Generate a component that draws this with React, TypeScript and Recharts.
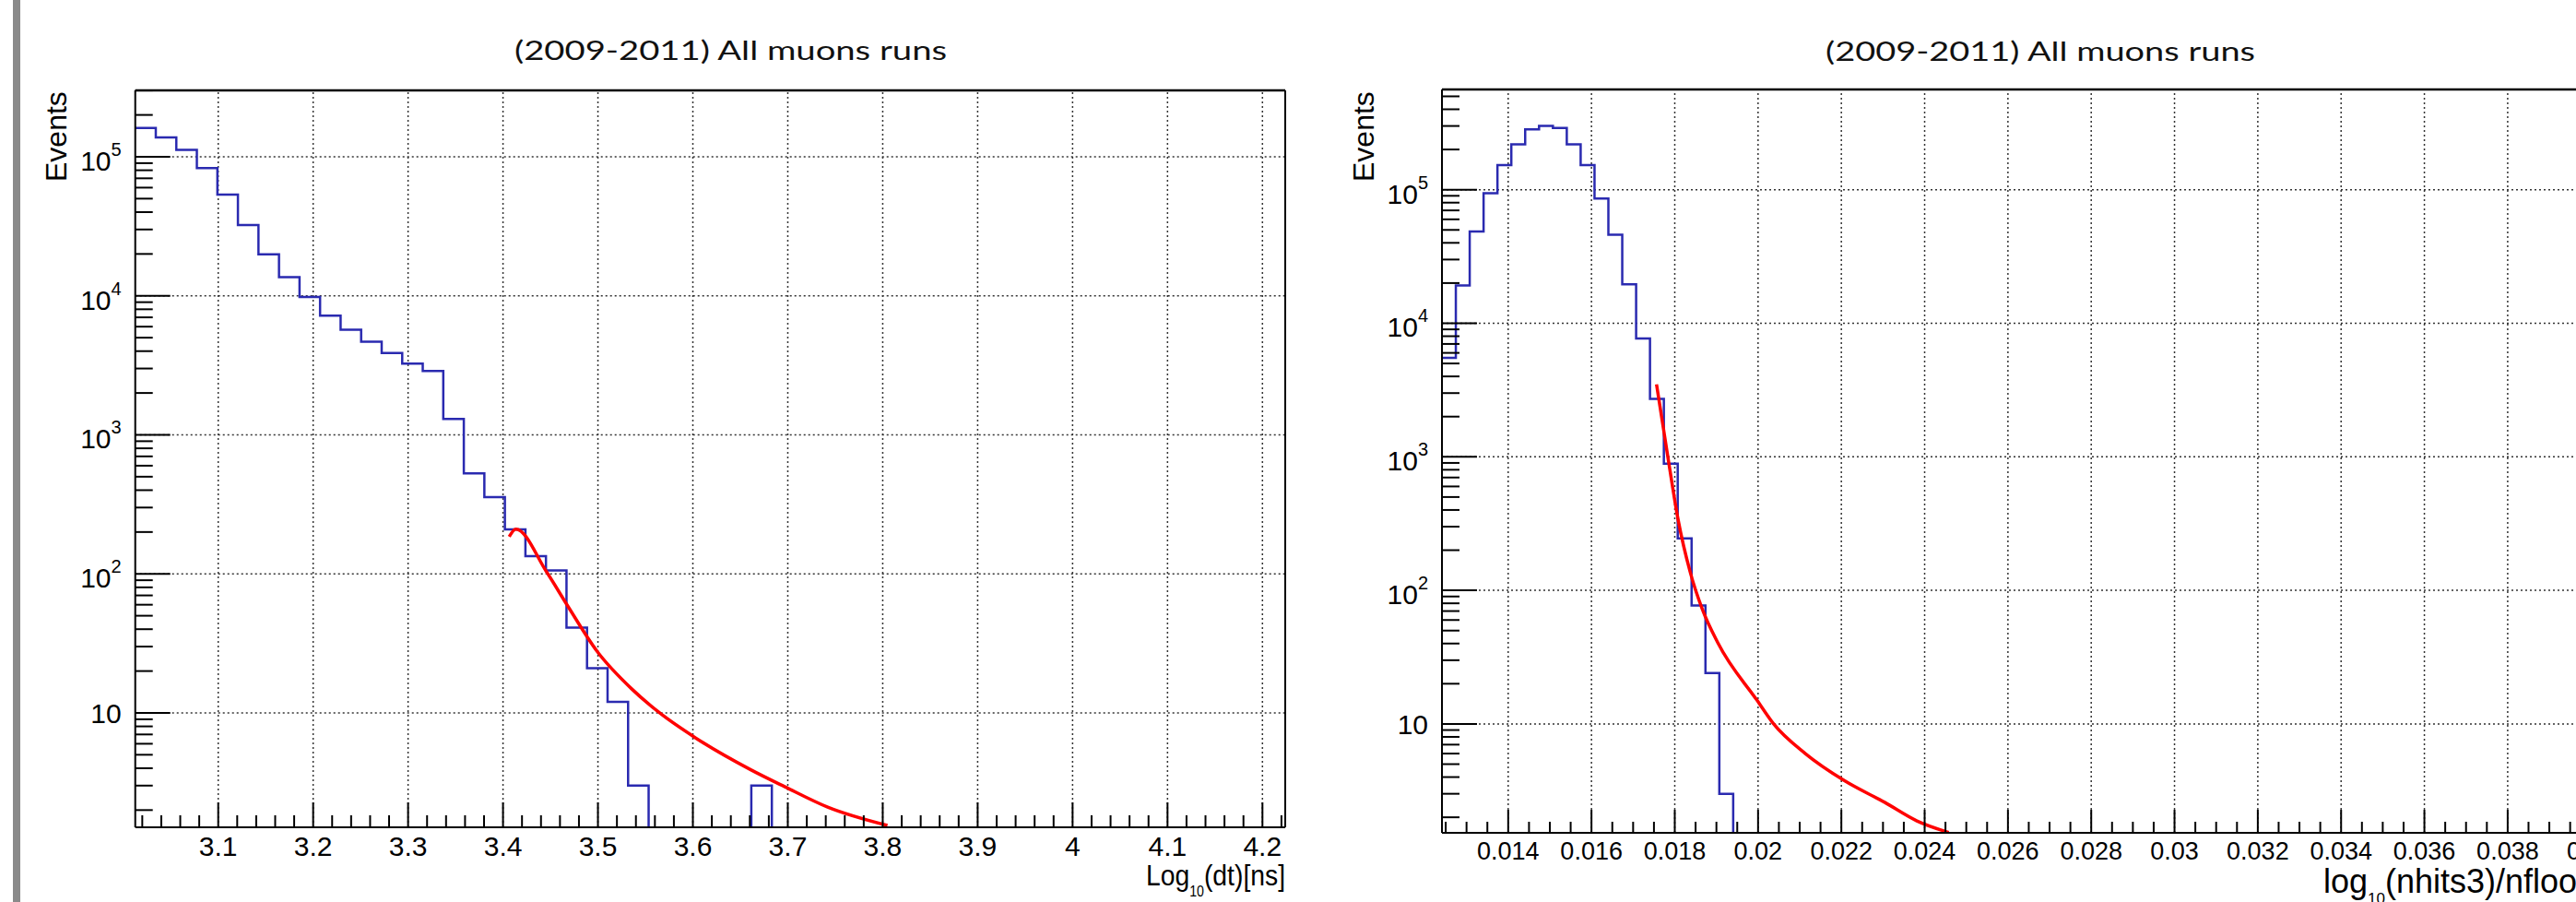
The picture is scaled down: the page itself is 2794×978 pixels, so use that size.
import React from 'react';
import { LineChart, Line, XAxis, YAxis, ReferenceLine } from 'recharts';

// ---------------- shared text ----------------
const TITLE = '(2009-2011) All muons runs';
const Y_TITLE = 'Events';
const Y_DECADES = [10, 100, 1000, 10000, 100000];
const Y_DECADE_EXPONENTS = ['1', '2', '3', '4', '5'];

// ---------------- left panel: log10(dt) ----------------
const DT_RANGE = [3.0126, 4.224];
const DT_BIN_WIDTH = 0.021632;
const DT_COUNTS = [
  161000, 138000, 112000, 83000, 53500, 32300, 19900, 13600, 9800, 7200,
  5700, 4670, 3880, 3250, 2880, 1300, 528, 357, 209, 134,
  106, 41, 21, 12, 3, 0, 0, 0, 0, 0,
  3, 0, 0, 0, 0, 0, 0, 0, 0, 0,
  0, 0, 0, 0, 0, 0, 0, 0, 0, 0,
  0, 0, 0, 0, 0, 0,
];
const DT_FIT_X = [3.4065, 3.4135, 3.446, 3.468, 3.4995, 3.5355, 3.565, 3.603, 3.661, 3.697, 3.742, 3.805];
const DT_FIT_Y = [185, 210, 103, 59, 27.5, 14.9, 10, 6.6, 3.9, 2.94, 2.1, 1.55];
const DT_Y_RANGE = [1.504, 300300];
const DT_TICKS = [3.1, 3.2, 3.3, 3.4, 3.5, 3.6, 3.7, 3.8, 3.9, 4.0, 4.1, 4.2];
const DT_TICK_LABELS = ['3.1', '3.2', '3.3', '3.4', '3.5', '3.6', '3.7', '3.8', '3.9', '4', '4.1', '4.2'];
const DT_MINOR_STEP = 0.02;
const DT_X_TITLE = ['Log', '10', '(dt)[ns]'];

// ---------------- right panel: log10(nhits3)/nfloor ----------------
const NH_RANGE = [0.01241, 0.041323];
const NH_BIN_WIDTH = 0.000333;
const NH_COUNTS = [
  5500, 19200, 48700, 94000, 153000, 219000, 283000, 300000, 290000, 219000,
  153000, 86000, 46000, 19600, 7700, 2720, 889, 245, 77, 24,
  3, 0, 0, 0,
];
const NH_FIT_X = [0.017562, 0.01785, 0.01808, 0.018368, 0.018656, 0.019032, 0.019984, 0.020374, 0.021135, 0.022087, 0.023039, 0.023814, 0.024578];
const NH_FIT_Y = [3490, 929, 339, 138, 73, 40.6, 14.9, 10, 6.0, 3.74, 2.59, 1.88, 1.54];
const NH_Y_RANGE = [1.53, 563000];
const NH_TICKS = [0.014, 0.016, 0.018, 0.02, 0.022, 0.024, 0.026, 0.028, 0.03, 0.032, 0.034, 0.036, 0.038, 0.04];
const NH_TICK_LABELS = ['0.014', '0.016', '0.018', '0.02', '0.022', '0.024', '0.026', '0.028', '0.03', '0.032', '0.034', '0.036', '0.038', '0.04'];
const NH_MINOR_STEP = 0.0005;
const NH_X_TITLE = ['log', '10', '(nhits3)/nfloor'];

const FONT = '"Liberation Sans", Arial, Helvetica, sans-serif';
const HIST_COLOR = '#2a2ab0';
const FIT_COLOR = '#ff0000';
const ZERO_FLOOR = 0.1;

function toSteps(x0: number, w: number, counts: number[]) {
  const pts = counts.map((c, i) => ({ x: x0 + i * w, y: c > 0 ? c : ZERO_FLOOR }));
  pts.push({ x: x0 + counts.length * w, y: pts[pts.length - 1].y });
  return pts;
}

function toPoints(xs: number[], ys: number[]) {
  return xs.map((x, i) => ({ x, y: ys[i] }));
}

function buildXTicks(range: number[], step: number) {
  const out: number[] = [];
  const k0 = Math.ceil(range[0] / step - 1e-9);
  const k1 = Math.floor(range[1] / step + 1e-9);
  for (let k = k0; k <= k1; k++) out.push(+(k * step).toFixed(6));
  return out;
}

function buildYTicks(range: number[]) {
  const out: number[] = [];
  for (let k = 0; k <= 6; k++) {
    for (let m = 1; m <= 9; m++) {
      const v = m * Math.pow(10, k);
      if (v >= range[0] && v <= range[1]) out.push(v);
    }
  }
  return out;
}

const makeXTick = (majors: number[], labels: string[], step: number, majorLen: number, minorLen: number, dy: number, fs: number) =>
  (props: any) => {
    const { x, y, payload } = props;
    const v = Number(payload.value);
    const i = majors.findIndex((m) => Math.abs(m - v) < step / 10);
    const major = i >= 0;
    return (
      <g>
        <line x1={x} x2={x} y1={y} y2={y - (major ? majorLen : minorLen)} stroke="#000" strokeWidth={2} />
        {major && (
          <text x={x} y={y + dy} textAnchor="middle" fontSize={fs} fontFamily={FONT} fill="#000">
            {labels[i]}
          </text>
        )}
      </g>
    );
  };

const YTick = (props: any) => {
  const { x, y, payload } = props;
  const v = Number(payload.value);
  const di = Y_DECADES.findIndex((d) => Math.abs(d - v) < 1e-6 * d);
  const major = di >= 0;
  const exp = major ? Y_DECADE_EXPONENTS[di] : '';
  return (
    <g>
      <line x1={x} x2={x + (major ? 38 : 19)} y1={y} y2={y} stroke="#000" strokeWidth={2} />
      {major && exp === '1' && (
        <text x={x - 15} y={y + 11} textAnchor="end" fontSize={30} fontFamily={FONT} fill="#000">10</text>
      )}
      {major && exp !== '1' && (
        <text x={x - 15} y={y + 15} textAnchor="end" fontSize={30} fontFamily={FONT} fill="#000">
          10<tspan fontSize={20} dy={-16}>{exp}</tspan>
        </text>
      )}
    </g>
  );
};

type PanelProps = {
  left: number;
  width: number;
  margin: { top: number; right: number; bottom: number; left: number };
  xAxisHeight: number;
  xRange: number[];
  yRange: number[];
  majors: number[];
  labels: string[];
  minorStep: number;
  majorLen: number;
  minorLen: number;
  labelDy: number;
  labelFs: number;
  hist: { x: number; y: number }[];
  fit: { x: number; y: number }[];
};

function Panel(p: PanelProps) {
  const xTicks = buildXTicks(p.xRange, p.minorStep);
  const yTicks = buildYTicks(p.yRange);
  const grid = { stroke: '#333', strokeDasharray: '2 3', strokeWidth: 1.5 };
  return (
    <div style={{ position: 'absolute', left: p.left, top: 0, width: p.width, height: 978 }}>
      <LineChart width={p.width} height={978} margin={p.margin}>
        <XAxis
          dataKey="x"
          type="number"
          domain={p.xRange}
          allowDataOverflow
          ticks={xTicks}
          interval={0}
          tickSize={0}
          tickMargin={0}
          tickLine={false}
          axisLine={{ stroke: '#000', strokeWidth: 2 }}
          height={p.xAxisHeight}
          tick={makeXTick(p.majors, p.labels, p.minorStep, p.majorLen, p.minorLen, p.labelDy, p.labelFs)}
        />
        <YAxis
          dataKey="y"
          type="number"
          scale="log"
          domain={p.yRange}
          allowDataOverflow
          ticks={yTicks}
          interval={0}
          tickSize={0}
          tickMargin={0}
          tickLine={false}
          axisLine={{ stroke: '#000', strokeWidth: 2 }}
          width={100}
          tick={YTick}
        />
        {p.majors.filter((t) => t <= p.xRange[1]).map((t) => (
          <ReferenceLine key={'gx' + t} x={t} {...grid} ifOverflow="hidden" />
        ))}
        {Y_DECADES.map((d) => (
          <ReferenceLine key={'gy' + d} y={d} {...grid} ifOverflow="hidden" />
        ))}
        <ReferenceLine y={p.yRange[1]} stroke="#000" strokeWidth={2.5} ifOverflow="visible" />
        <ReferenceLine x={p.xRange[1]} stroke="#000" strokeWidth={2} ifOverflow="visible" />
        <Line
          data={p.hist}
          dataKey="y"
          type="stepAfter"
          stroke={HIST_COLOR}
          strokeWidth={2.5}
          dot={false}
          isAnimationActive={false}
        />
        <Line
          data={p.fit}
          dataKey="y"
          type="monotone"
          stroke={FIT_COLOR}
          strokeWidth={3.5}
          dot={false}
          isAnimationActive={false}
        />
      </LineChart>
    </div>
  );
}

export default function App() {
  const dtHist = toSteps(DT_RANGE[0], DT_BIN_WIDTH, DT_COUNTS);
  const dtFit = toPoints(DT_FIT_X, DT_FIT_Y);
  const nhHist = toSteps(NH_RANGE[0], NH_BIN_WIDTH, NH_COUNTS);
  const nhFit = toPoints(NH_FIT_X, NH_FIT_Y);
  return (
    <div style={{ position: 'absolute', left: 0, top: 0, width: 2794, height: 978, overflow: 'hidden', background: '#fff' }}>
      <div style={{ position: 'absolute', left: 14, top: 0, width: 8, height: 978, background: '#8a8a8a' }} />
      <Panel
        left={0}
        width={1440}
        margin={{ top: 98, right: 46, bottom: 0, left: 46.7 }}
        xAxisHeight={81}
        xRange={DT_RANGE}
        yRange={DT_Y_RANGE}
        majors={DT_TICKS}
        labels={DT_TICK_LABELS}
        minorStep={DT_MINOR_STEP}
        majorLen={27}
        minorLen={13}
        labelDy={31}
        labelFs={30}
        hist={dtHist}
        fit={dtFit}
      />
      <Panel
        left={1440}
        width={1440}
        margin={{ top: 97, right: 10, bottom: 0, left: 24 }}
        xAxisHeight={75}
        xRange={NH_RANGE}
        yRange={NH_Y_RANGE}
        majors={NH_TICKS}
        labels={NH_TICK_LABELS}
        minorStep={NH_MINOR_STEP}
        majorLen={25}
        minorLen={12}
        labelDy={28.5}
        labelFs={27}
        hist={nhHist}
        fit={nhFit}
      />
      <svg width={2794} height={978} style={{ position: 'absolute', left: 0, top: 0, pointerEvents: 'none' }}>
        <text x={558} y={65} fontFamily="Lato, 'Open Sans', sans-serif" fontSize={29} fill="#111" textLength={469} lengthAdjust="spacingAndGlyphs">
          {TITLE}
        </text>
        <text x={1980} y={66} fontFamily="Lato, 'Open Sans', sans-serif" fontSize={29} fill="#111" textLength={466} lengthAdjust="spacingAndGlyphs">
          {TITLE}
        </text>
        <text transform="translate(72,197) rotate(-90)" fontFamily={FONT} fontSize={32} fill="#000">{Y_TITLE}</text>
        <text transform="translate(1490,197) rotate(-90)" fontFamily={FONT} fontSize={32} fill="#000">{Y_TITLE}</text>
        <text x={1394} y={960} textAnchor="end" fontFamily={FONT} fontSize={32} fill="#000" textLength={151} lengthAdjust="spacingAndGlyphs">
          {DT_X_TITLE[0]}
          <tspan fontSize={16} dy={12}>{DT_X_TITLE[1]}</tspan>
          <tspan fontSize={32} dy={-12}>{DT_X_TITLE[2]}</tspan>
        </text>
        <text x={2520} y={968} fontFamily={FONT} fontSize={36} fill="#000">
          {NH_X_TITLE[0]}
          <tspan fontSize={17} dy={12}>{NH_X_TITLE[1]}</tspan>
          <tspan fontSize={36} dy={-12}>{NH_X_TITLE[2]}</tspan>
        </text>
      </svg>
    </div>
  );
}
